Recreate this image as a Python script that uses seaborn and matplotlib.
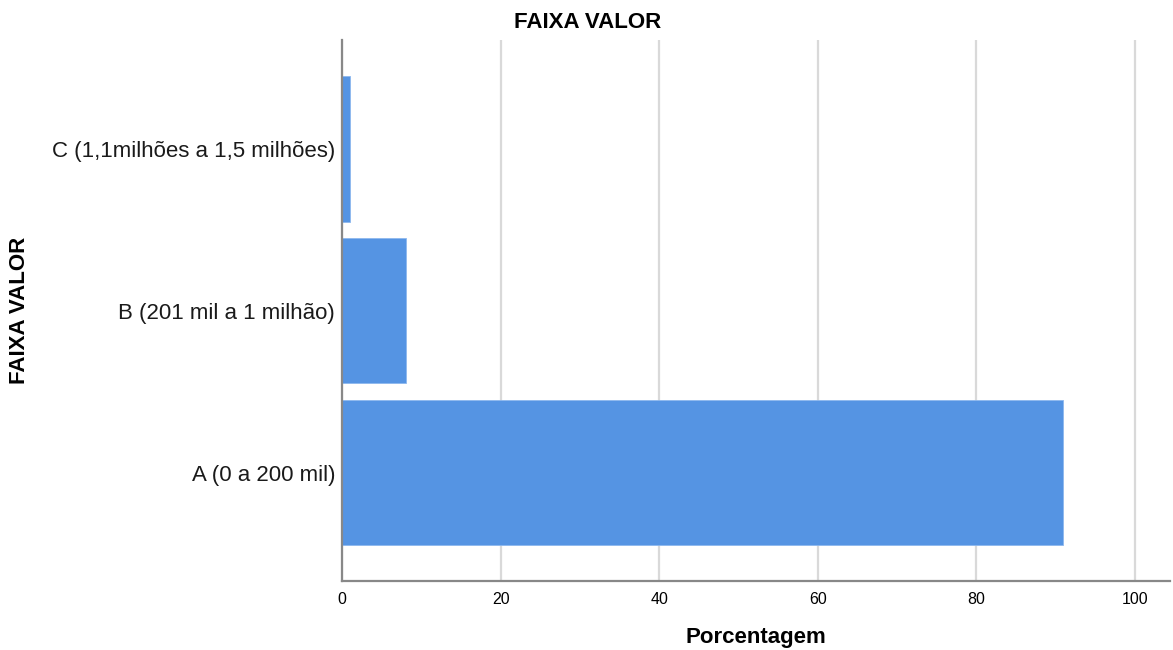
import pandas as pd
import seaborn as sns
import matplotlib.pyplot as plt

# data
faixas = ["C (1,1milhões a 1,5 milhões)", "B (201 mil a 1 milhão)", "A (0 a 200 mil)"]
porcentagem = [1.0, 8.1, 90.9]
xticks = [0, 20, 40, 60, 80, 100]

df = pd.DataFrame({"Faixa": faixas, "Porcentagem": porcentagem})

sns.set_style("white")
plt.rcParams["font.family"] = ["Liberation Sans", "DejaVu Sans"]
plt.rcParams["text.color"] = "black"

fig = plt.figure(figsize=(11.73, 6.5), dpi=100)
ax = fig.add_axes([0.2916, 0.1062, 0.7058, 0.8318])

sns.barplot(
    data=df,
    x="Porcentagem",
    y="Faixa",
    order=faixas,
    orient="h",
    color="#5594E3",
    saturation=1,
    width=0.9,
    edgecolor="#8DB8EE",
    linewidth=0.6,
    ax=ax,
)

ax.set_xlim(0, 104.4)
ax.set_ylim(2.67, -0.67)
ax.set_xticks(xticks)
ax.xaxis.grid(True, color="#D9D9D9", linewidth=1.6)
ax.set_axisbelow(True)
ax.tick_params(axis="x", labelsize=11.5, length=0, pad=8, labelcolor="black")
ax.tick_params(axis="y", labelsize=16, length=0, pad=5, labelcolor="#1a1a1a")

for s in ["top", "right"]:
    ax.spines[s].set_visible(False)
for s in ["left", "bottom"]:
    ax.spines[s].set_color("#888888")
    ax.spines[s].set_linewidth(1.6)

ax.set_xlabel("Porcentagem", fontsize=16, fontweight="bold", labelpad=14, color="black")
ax.set_ylabel("")
fig.text(0.017, 0.523, "FAIXA VALOR", rotation=90, fontsize=16, fontweight="bold",
         ha="center", va="center", color="black")
fig.text(0.501, 0.966, "FAIXA VALOR", fontsize=16, fontweight="bold",
         ha="center", va="center", color="black")

fig.savefig("out.png", dpi=100)
